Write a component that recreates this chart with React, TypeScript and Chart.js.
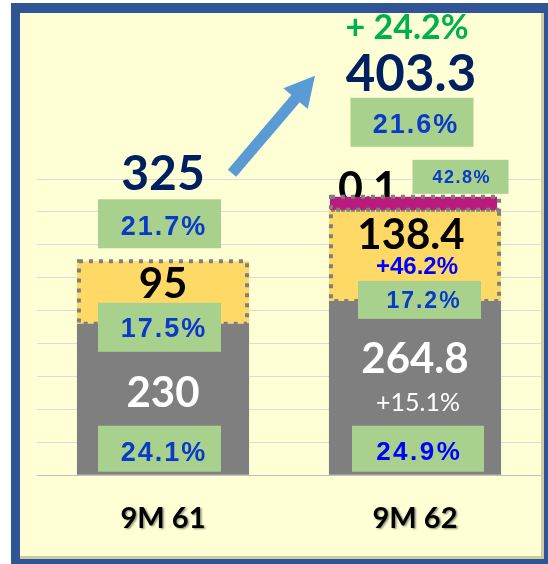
import React, { useEffect, useRef } from 'react';
import { Chart, registerables } from 'chart.js';
Chart.register(...registerables);

// ---- data ----
const categories = ['9M 61', '9M 62'];
const grayValues = [230, 264.8];
const yellowValues = [95, 138.4];
const magentaValues: (number | null)[] = [null, 0.1];
const totalValues = [325, 403.3];
const totalGrowth = '+ 24.2%';
const grayGrowth = [null, '+15.1%'];
const yellowGrowth = [null, '+46.2%'];
const grayShare = ['24.1%', '24.9%'];
const yellowShare = ['17.5%', '17.2%'];
const totalShare = ['21.7%', '21.6%'];
const magentaShare = [null, '42.8%'];
const yMax = 450;
const yStep = 50;

const LATO = 'Lato, "Open Sans", sans-serif';
const ARIAL = '"Liberation Sans", Arial, sans-serif';
const GREEN_BOX = '#A9D18E';
const PCT_BLUE = '#0A3BC8';
const NAVY = '#002060';

function txt(ctx: CanvasRenderingContext2D, s: string, x: number, cy: number, size: number, family: string, weight: string, color: string, spacing = 0, capRatio = 0.72) {
  ctx.save();
  ctx.font = `${weight} ${size}px ${family}`;
  ctx.fillStyle = color;
  ctx.textAlign = 'center';
  ctx.textBaseline = 'alphabetic';
  (ctx as any).letterSpacing = spacing + 'px';
  ctx.fillText(s, x + spacing / 2, cy + (size * capRatio) / 2);
  ctx.restore();
}

function box(ctx: CanvasRenderingContext2D, x0: number, y0: number, x1: number, y1: number) {
  ctx.save();
  ctx.fillStyle = GREEN_BOX;
  ctx.fillRect(x0, y0, x1 - x0, y1 - y0);
  ctx.restore();
}

function dotted(ctx: CanvasRenderingContext2D, el: any) {
  const w = el.width;
  const top = Math.min(el.y, el.base);
  const bot = Math.max(el.y, el.base);
  ctx.save();
  ctx.strokeStyle = '#7F7F7F';
  ctx.lineWidth = 4;
  ctx.setLineDash([4, 6]);
  ctx.strokeRect(el.x - w / 2 + 2, top, w - 4, bot - top);
  ctx.restore();
}

const framePlugin = {
  id: 'frame',
  beforeDraw(chart: any) {
    const ctx = chart.ctx;
    const W = chart.width, H = chart.height;
    ctx.save();
    ctx.fillStyle = '#FFFFFF';
    ctx.fillRect(0, 0, W, H);
    ctx.fillStyle = '#2F5597';
    ctx.fillRect(11, 3, W - 11, H - 3);
    ctx.fillStyle = '#CFCBA0';
    ctx.fillRect(20, 13, W - 24, H - 18);
    ctx.fillStyle = '#FFFFD5';
    ctx.fillRect(20, 13, W - 27, H - 21);
    ctx.restore();
  },
  beforeDatasetsDraw(chart: any) {
    // "0.1" label sits behind the magenta segment
    const ctx = chart.ctx;
    const mag = chart.getDatasetMeta(2).data[1];
    if (mag && magentaValues[1] != null) {
      txt(ctx, String(magentaValues[1]), mag.x - 47, mag.y - 9, 43, LATO, 'bold', '#000000');
    }
  },
  afterDatasetsDraw(chart: any) {
    const ctx = chart.ctx;
    const g = chart.getDatasetMeta(0).data;
    const y = chart.getDatasetMeta(1).data;
    const m = chart.getDatasetMeta(2).data;

    // dotted outlines
    dotted(ctx, y[0]);
    dotted(ctx, y[1]);
    if (m[1]) {
      const e = m[1];
      ctx.save();
      ctx.fillStyle = '#B81A7D';
      ctx.fillRect(e.x - e.width / 2 + 1, e.y, e.width - 5, e.base - e.y);
      ctx.restore();
      dotted(ctx, e);
    }

    // ---- left bar ----
    {
      const X = g[0].x, base = g[0].base, gt = g[0].y, yt = y[0].y;
      box(ctx, X - 65, base - 49, X + 58, base - 3);
      txt(ctx, grayShare[0], X, base - 23, 27, ARIAL, 'bold', PCT_BLUE, 2, 0.716);
      txt(ctx, String(grayValues[0]), X, gt + 68, 42, LATO, 'bold', '#FFFFFF');
      box(ctx, X - 65, gt - 21, X + 58, gt + 28);
      txt(ctx, yellowShare[0], X, gt + 4, 27, ARIAL, 'bold', PCT_BLUE, 2, 0.716);
      txt(ctx, String(yellowValues[0]), X, yt + 22, 42, LATO, 'bold', '#000000');
      box(ctx, X - 65, yt - 62, X + 58, yt - 13);
      txt(ctx, totalShare[0], X, yt - 36, 27, ARIAL, 'bold', PCT_BLUE, 2, 0.716);
      txt(ctx, String(totalValues[0]), X, yt - 89, 48, LATO, 'bold', NAVY);
    }

    // ---- right bar ----
    {
      const X = g[1].x, base = g[1].base, gt = g[1].y, yt = y[1].y;
      const mt = m[1] ? m[1].y : yt;
      box(ctx, X - 63, base - 49, X + 69, base - 3);
      txt(ctx, grayShare[1], X + 3, base - 24, 26, ARIAL, 'bold', '#0000FF', 2.5, 0.716);
      txt(ctx, String(grayGrowth[1]), X + 3, gt + 101, 25, LATO, 'normal', '#FFFFFF');
      txt(ctx, String(grayValues[1]), X, gt + 57, 42, LATO, 'bold', '#FFFFFF');
      box(ctx, X - 57, gt - 20, X + 66, gt + 18);
      txt(ctx, yellowShare[1], X + 8, gt - 1, 23, ARIAL, 'bold', PCT_BLUE, 2, 0.716);
      txt(ctx, String(yellowGrowth[1]), X + 2, yt + 56, 24, ARIAL, 'bold', '#0000FF', 0, 0.716);
      txt(ctx, String(yellowValues[1]), X - 4, yt + 24, 42, LATO, 'bold', '#000000');
      box(ctx, X - 2.5, mt - 37, X + 93.5, mt - 3);
      txt(ctx, String(magentaShare[1]), X + 46, mt - 20, 18, ARIAL, 'bold', PCT_BLUE, 1.5, 0.716);
      box(ctx, X - 64.5, mt - 99, X + 58.5, mt - 50);
      txt(ctx, totalShare[1], X, mt - 73, 27, ARIAL, 'bold', PCT_BLUE, 2, 0.716);
      txt(ctx, String(totalValues[1]), X - 4, mt - 124, 51, LATO, 'bold', NAVY);
      txt(ctx, totalGrowth, X - 8, mt - 170, 34, LATO, 'bold', '#00B050');

      // growth arrow from left total to right total
      const lx = g[0].x + 69, ly = y[0].y - 88;
      const rx = X - 100, ry = mt - 121;
      const ang = Math.atan2(ry - ly, rx - lx);
      const len = Math.hypot(rx - lx, ry - ly);
      ctx.save();
      ctx.translate(lx, ly);
      ctx.rotate(ang);
      ctx.fillStyle = '#5B9BD5';
      const head = 30, hw = 16, sw = 5.5;
      ctx.beginPath();
      ctx.moveTo(0, -sw);
      ctx.lineTo(len - head, -sw);
      ctx.lineTo(len - head, -hw);
      ctx.lineTo(len, 0);
      ctx.lineTo(len - head, hw);
      ctx.lineTo(len - head, sw);
      ctx.lineTo(0, sw);
      ctx.closePath();
      ctx.fill();
      ctx.restore();
    }

    // soft shadow for the category labels drawn next (x ticks are on a layer above datasets)
    ctx.shadowColor = 'rgba(0,0,0,0.45)';
    ctx.shadowOffsetX = 1.5;
    ctx.shadowOffsetY = 1.5;
    ctx.shadowBlur = 2;
  },
  afterDraw(chart: any) {
    const ctx = chart.ctx;
    ctx.shadowColor = 'rgba(0,0,0,0)';
    ctx.shadowOffsetX = 0;
    ctx.shadowOffsetY = 0;
    ctx.shadowBlur = 0;
  },
};

export default function App() {
  const ref = useRef<HTMLCanvasElement | null>(null);
  useEffect(() => {
    if (!ref.current) return;
    const chart = new Chart(ref.current, {
      type: 'bar',
      data: {
        labels: categories,
        datasets: [
          { label: 'gray', data: grayValues, backgroundColor: '#7F7F7F', borderWidth: 0 },
          { label: 'yellow', data: yellowValues, backgroundColor: '#FFD966', borderWidth: 0 },
          { label: 'magenta', data: magentaValues as any, backgroundColor: 'rgba(0,0,0,0)', borderWidth: 0, minBarLength: 13 },
        ],
      },
      options: {
        responsive: false,
        animation: false,
        devicePixelRatio: 1,
        datasets: { bar: { barPercentage: 0.683, categoryPercentage: 1 } },
        layout: { padding: { left: 37, right: 7, top: 179, bottom: 2 } },
        plugins: { legend: { display: false }, tooltip: { enabled: false } },
        scales: {
          x: {
            stacked: true,
            grid: { display: false, drawTicks: false },
            border: { display: false },
            ticks: { z: 1, padding: 26, color: '#000000', font: { family: LATO, size: 29, weight: 'bold' } },
          },
          y: {
            stacked: true,
            min: 0,
            max: yMax,
            ticks: { display: false, stepSize: yStep },
            grid: { color: (c: any) => (c.tick && c.tick.value === 0 ? '#BFBFBF' : '#DCDCDC'), drawTicks: false, lineWidth: 1 },
            border: { display: false },
            afterFit: (s: any) => { s.width = 0; },
          },
        },
      },
      plugins: [framePlugin],
    } as any);
    return () => chart.destroy();
  }, []);
  return (
    <div style={{ position: 'absolute', left: 0, top: 0, width: 548, height: 564 }}>
      <canvas ref={ref} width={548} height={564} />
    </div>
  );
}
